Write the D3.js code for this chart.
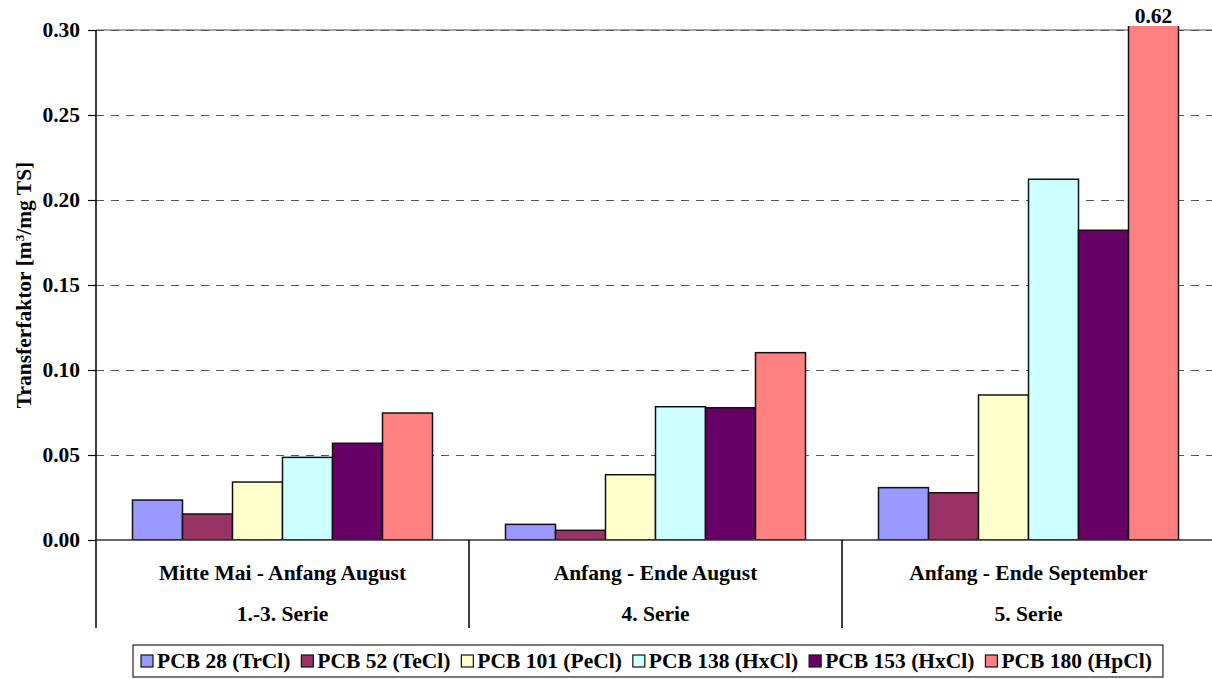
<!DOCTYPE html>
<html>
<head>
<meta charset="utf-8">
<script src="https://cdn.jsdelivr.net/npm/d3@7"></script>
<style>
  html, body { margin: 0; padding: 0; background: #fff; }
  svg { display: block; }
  text { font-family: "Liberation Serif", "Times New Roman", serif; font-weight: bold; fill: #000; }
</style>
</head>
<body>
<svg id="chart" width="1212" height="679"></svg>
<script>
// Sampling periods (two label rows per group)
const periods = ["Mitte Mai - Anfang August", "Anfang - Ende August", "Anfang - Ende September"];
const series = ["1.-3. Serie", "4. Serie", "5. Serie"];

// Congeners and their fill colours
const congeners = ["PCB 28 (TrCl)", "PCB 52 (TeCl)", "PCB 101 (PeCl)", "PCB 138 (HxCl)", "PCB 153 (HxCl)", "PCB 180 (HpCl)"];
const colors = ["#9999FF", "#993366", "#FFFFCC", "#CCFFFF", "#660066", "#FF8080"];

// Transfer factor [m³/mg TS] per congener, one value per period
const pcb28  = [0.0235, 0.0092, 0.0308];
const pcb52  = [0.0153, 0.0057, 0.0278];
const pcb101 = [0.0341, 0.0384, 0.0853];
const pcb138 = [0.0486, 0.0784, 0.2122];
const pcb153 = [0.0569, 0.0778, 0.1822];
const pcb180 = [0.0747, 0.1102, 0.62];
const values = [pcb28, pcb52, pcb101, pcb138, pcb153, pcb180];

const yTicks = [0, 0.05, 0.10, 0.15, 0.20, 0.25, 0.30];
const yMax = 0.30;

const FS = 21.5;

const svg = d3.select("#chart");
const plot = { left: 96, right: 1215, top: 30, bottom: 540 };

const x0 = d3.scaleBand().domain(periods).range([plot.left, plot.right]).paddingInner(0).paddingOuter(0);
const x1 = d3.scaleBand().domain(congeners).range([0, x0.bandwidth()]).paddingOuter(0.73).paddingInner(0);
const y = d3.scaleLinear().domain([0, yMax]).range([plot.bottom, plot.top]);

// Gridlines
const grid = svg.append("g");
grid.append("line")
  .attr("x1", plot.left).attr("x2", plot.right)
  .attr("y1", y(yMax)).attr("y2", y(yMax))
  .attr("stroke", "#8a8a8a").attr("stroke-width", 1.5);
grid.selectAll("line.g").data(yTicks.filter(d => d > 0)).enter().append("line")
  .attr("class", "g")
  .attr("x1", plot.left).attr("x2", plot.right)
  .attr("y1", d => Math.round(y(d)) + 0.5).attr("y2", d => Math.round(y(d)) + 0.5)
  .attr("stroke", "#555").attr("stroke-width", 1.2)
  .attr("stroke-dasharray", "8,7");

// Clip so bars beyond the axis maximum are cut at the plot top
svg.append("clipPath").attr("id", "plotclip").append("rect")
  .attr("x", plot.left).attr("y", plot.top - 4)
  .attr("width", plot.right - plot.left).attr("height", plot.bottom - plot.top + 4);

// Bars
const bars = svg.append("g").attr("clip-path", "url(#plotclip)");
const rows = [];
periods.forEach((p, i) => congeners.forEach((c, j) => rows.push({ p, c, j, v: values[j][i] })));
bars.selectAll("rect").data(rows).enter().append("rect")
  .attr("x", d => x0(d.p) + x1(d.c))
  .attr("width", x1.bandwidth())
  .attr("y", d => y(d.v))
  .attr("height", d => y(0) - y(d.v))
  .attr("fill", d => colors[d.j])
  .attr("stroke", "#111").attr("stroke-width", 1.5);

// Value label for the bar that exceeds the scale
rows.filter(d => d.v > yMax).forEach(d => {
  svg.append("text")
    .attr("x", x0(d.p) + x1(d.c) + x1.bandwidth() / 2)
    .attr("y", plot.top - 7)
    .attr("text-anchor", "middle")
    .attr("font-size", FS)
    .text(d3.format(".2f")(d.v));
});

// Y axis
const yAxis = svg.append("g").attr("transform", `translate(${plot.left},0)`)
  .call(d3.axisLeft(y).tickValues(yTicks).tickFormat(d3.format(".2f")).tickSize(8).tickPadding(8));
yAxis.attr("font-family", null).attr("font-size", null);
yAxis.select(".domain").remove();
yAxis.selectAll(".tick line").attr("stroke", "#000").attr("stroke-width", 1.2);
yAxis.selectAll(".tick text").attr("font-size", FS);
svg.append("line")
  .attr("x1", plot.left).attr("x2", plot.left)
  .attr("y1", plot.top).attr("y2", 628)
  .attr("stroke", "#000").attr("stroke-width", 1.5);

// X baseline and category separators
svg.append("line")
  .attr("x1", plot.left).attr("x2", plot.right)
  .attr("y1", y(0)).attr("y2", y(0))
  .attr("stroke", "#333").attr("stroke-width", 1.5);
svg.selectAll("line.sep").data(periods.slice(1)).enter().append("line")
  .attr("class", "sep")
  .attr("x1", d => x0(d)).attr("x2", d => x0(d))
  .attr("y1", y(0)).attr("y2", 628)
  .attr("stroke", "#000").attr("stroke-width", 1.5);

// Category labels (two rows)
svg.selectAll("text.cat1").data(periods).enter().append("text")
  .attr("class", "cat1")
  .attr("x", d => x0(d) + x0.bandwidth() / 2).attr("y", 580)
  .attr("text-anchor", "middle").attr("font-size", FS)
  .text(d => d);
svg.selectAll("text.cat2").data(periods).enter().append("text")
  .attr("class", "cat2")
  .attr("x", d => x0(d) + x0.bandwidth() / 2).attr("y", 621)
  .attr("text-anchor", "middle").attr("font-size", FS)
  .text((d, i) => series[i]);

// Y axis title
svg.append("text")
  .attr("transform", `translate(31,${(plot.top + plot.bottom) / 2}) rotate(-90)`)
  .attr("text-anchor", "middle").attr("font-size", FS)
  .html('Transferfaktor [m<tspan baseline-shift="super" font-size="13">3</tspan>/mg TS]');

// Legend
const legend = svg.append("g");
const legBox = legend.append("rect")
  .attr("fill", "#fff").attr("stroke", "#222").attr("stroke-width", 1.2);
let lx = 141;
const ly = 661;
congeners.forEach((c, j) => {
  legend.append("rect")
    .attr("x", lx).attr("y", ly - 6).attr("width", 12).attr("height", 12)
    .attr("fill", colors[j]).attr("stroke", "#111").attr("stroke-width", 1.2);
  const t = legend.append("text")
    .attr("x", lx + 16).attr("y", ly + 7)
    .attr("font-size", FS).text(c);
  lx += 16 + t.node().getComputedTextLength() + 11;
});
legBox.attr("x", 133).attr("y", 645).attr("width", lx - 133).attr("height", 32);
</script>
</body>
</html>
